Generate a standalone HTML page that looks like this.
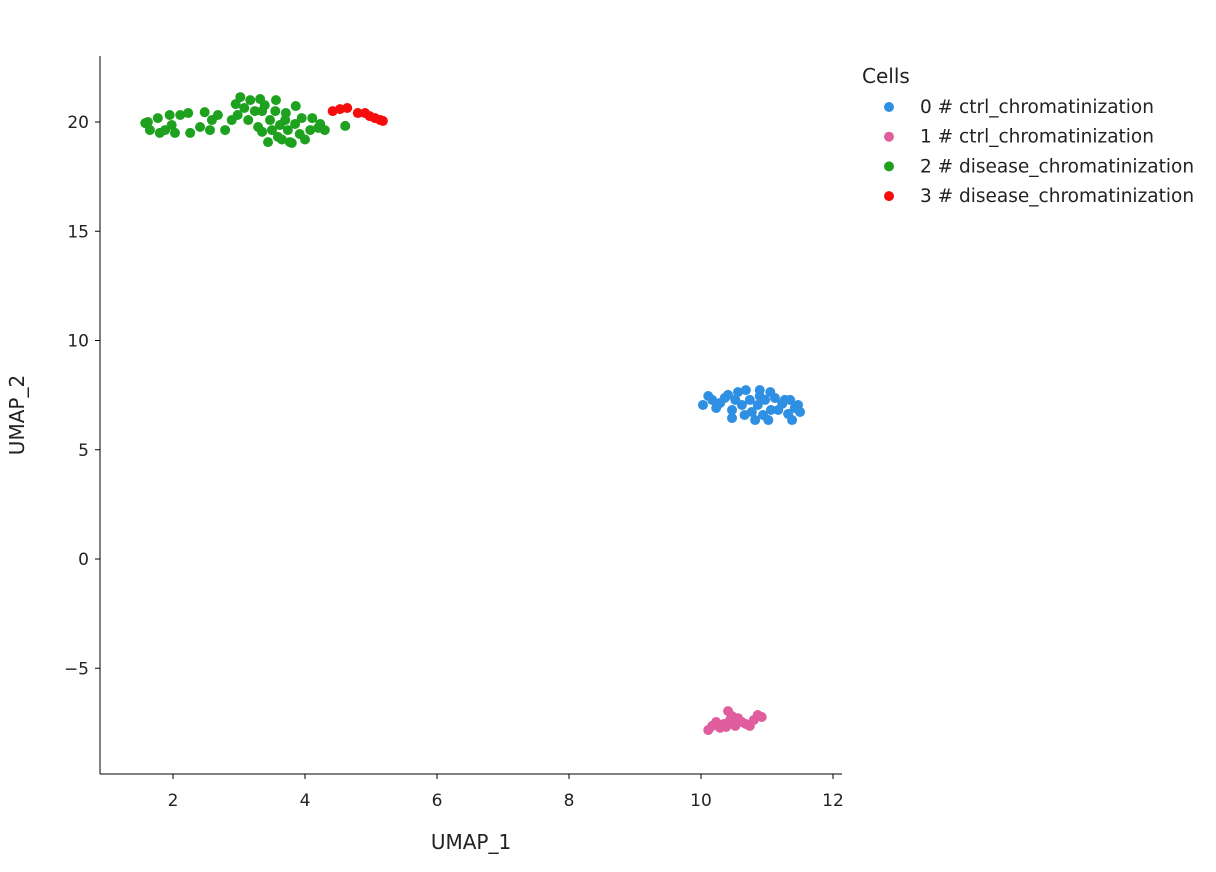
<!DOCTYPE html>
<html><head><meta charset="utf-8"><style>
body{margin:0;background:#fff;font-family:"DejaVu Sans",sans-serif;}
svg text{font-family:"DejaVu Sans",sans-serif;fill:#222;}
</style></head><body>
<svg id="chart" width="1216" height="868" xmlns="http://www.w3.org/2000/svg">
<g id="axes"></g><g id="points"></g><g id="legend"></g>
</svg>
<script>
const xTicks=[2,4,6,8,10,12];
const yTicks=[20,15,10,5,0,-5];
const seriesNames=["0 # ctrl_chromatinization","1 # ctrl_chromatinization","2 # disease_chromatinization","3 # disease_chromatinization"];
const seriesColors=["#2e8fe3","#e05d9e","#1ea11e","#f70c0c"];
const s0x=[10.03,10.11,10.17,10.23,10.29,10.36,10.41,10.47,10.52,10.56,10.62,10.68,10.74,10.77,10.82,10.86,10.89,10.94,10.97,11.02,11.06,11.12,11.17,11.23,11.27,11.32,11.38,11.42,11.47,11.5,10.89,10.47,10.66,11.35,11.05];
const s0y=[7.05,7.46,7.28,6.91,7.14,7.37,7.51,6.82,7.28,7.64,7.05,7.73,7.28,6.73,6.36,7.05,7.46,6.59,7.28,6.36,6.82,7.37,6.82,7.1,7.28,6.64,6.36,6.91,7.05,6.73,7.73,6.45,6.59,7.28,7.64];
const s1x=[10.11,10.17,10.23,10.29,10.35,10.41,10.44,10.52,10.56,10.62,10.68,10.74,10.8,10.86,10.92,10.47,10.38];
const s1y=[-7.83,-7.64,-7.46,-7.73,-7.55,-6.96,-7.37,-7.64,-7.28,-7.46,-7.55,-7.64,-7.37,-7.14,-7.23,-7.19,-7.69];
const s2x=[1.58,1.65,1.62,1.8,1.77,1.88,1.95,1.98,2.03,2.11,2.26,2.23,2.41,2.48,2.56,2.59,2.68,2.79,2.89,2.95,2.98,3.02,3.08,3.14,3.17,3.24,3.29,3.32,3.35,3.39,3.44,3.47,3.5,3.55,3.59,3.62,3.65,3.7,3.74,3.8,3.85,3.86,3.92,3.95,4.0,4.08,4.11,4.2,4.23,4.3,4.61,3.56,3.35,3.77,3.71];
const s2y=[19.95,19.63,20.0,19.5,20.18,19.63,20.32,19.86,19.5,20.32,19.5,20.41,19.77,20.45,19.63,20.09,20.32,19.63,20.09,20.82,20.32,21.14,20.64,20.09,21.0,20.5,19.77,21.05,19.55,20.77,19.08,20.09,19.63,20.5,19.32,19.86,19.2,20.09,19.63,19.04,19.91,20.73,19.45,20.18,19.2,19.63,20.18,19.73,19.91,19.63,19.82,21.0,20.5,19.08,20.41];
const s3x=[4.42,4.53,4.64,4.8,4.91,4.98,5.06,5.14,5.18];
const s3y=[20.5,20.59,20.64,20.41,20.41,20.27,20.18,20.09,20.05];
const SX=[s0x,s1x,s2x,s3x],SY=[s0y,s1y,s2y,s3y];
const NS="http://www.w3.org/2000/svg";
const X=v=>41+66*v, Y=v=>559-21.85*v;
function mk(t,a,p){const e=document.createElementNS(NS,t);for(const k in a)e.setAttribute(k,a[k]);p.appendChild(e);return e;}
const ax=document.getElementById('axes');
let l=mk('line',{x1:100,y1:774,x2:842,y2:774,stroke:'#000','stroke-width':1},ax);


l=mk('line',{x1:100,y1:56,x2:100,y2:774,stroke:'#000','stroke-width':1},ax);


xTicks.forEach(v=>{mk('line',{x1:X(v),y1:774,x2:X(v),y2:779,stroke:'#000'},ax);
 const t=mk('text',{x:X(v),y:806,'text-anchor':'middle','font-size':17},ax);t.textContent=v;
 
 });
yTicks.forEach(v=>{mk('line',{x1:95,y1:Y(v),x2:100,y2:Y(v),stroke:'#000'},ax);
 const t=mk('text',{x:89,y:Y(v)+6,'text-anchor':'end','font-size':17},ax);t.textContent=v<0?'\u2212'+(-v):v;
 
 });
let t=mk('text',{x:471,y:849,'text-anchor':'middle','font-size':20},ax);t.textContent='UMAP_1';


t=mk('text',{x:24,y:415,'text-anchor':'middle','font-size':20,transform:'rotate(-90 24 415)'},ax);t.textContent='UMAP_2';


const pg=document.getElementById('points');
SX.forEach((xs,s)=>xs.forEach((x,i)=>{const c=mk('circle',{cx:X(x),cy:Y(SY[s][i]),r:5,fill:seriesColors[s]},pg);
 
 }));
const lg=document.getElementById('legend');
t=mk('text',{x:862,y:83,'font-size':20},lg);t.textContent='Cells';


seriesNames.forEach((n,i)=>{const g=mk('g',{},lg);
 
 
 const y=107+29.7*i;mk('circle',{cx:889,cy:y,r:5,fill:seriesColors[i]},g);
 const tt=mk('text',{x:920,y:y+6,'font-size':18.5},g);tt.textContent=n;});
</script>
</body></html>
